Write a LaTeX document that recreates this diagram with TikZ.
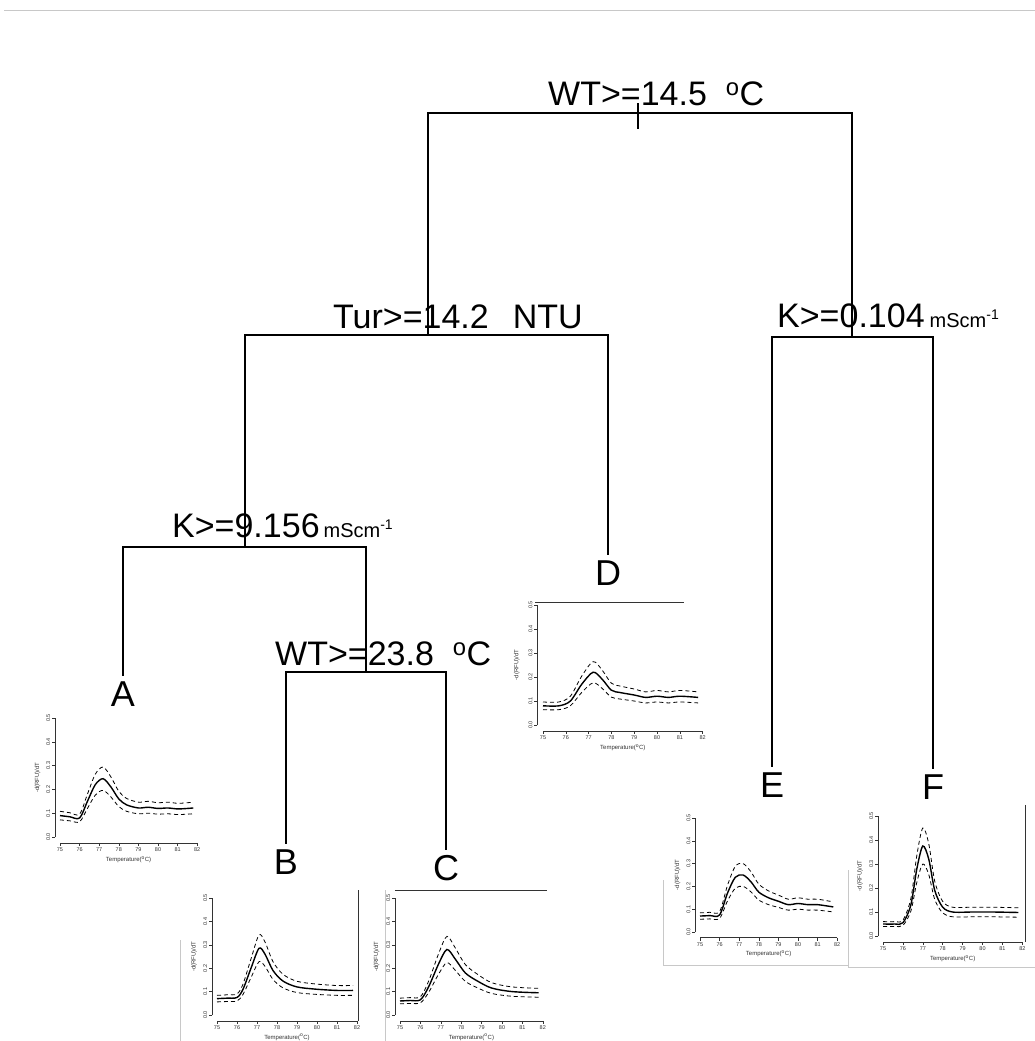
\documentclass[tikz,border=0pt]{standalone}
\usepackage{fontspec}
\setmainfont{Liberation Sans}
\usepackage{xcolor}
\definecolor{frame}{HTML}{C8C8C8}
\definecolor{axisc}{HTML}{333333}
\tikzset{
  branch/.style={line width=1.8pt, draw=black, line cap=rect},
  split/.style={anchor=base west, inner sep=0pt, font=\fontsize{34}{40}\selectfont},
  leaf/.style={anchor=base, inner sep=6pt, font=\fontsize{36}{42}\selectfont},
  meanline/.style={line width=1.4pt},
  bandline/.style={line width=0.8pt, dash pattern=on 4pt off 3pt},
  axisline/.style={line width=0.6pt, draw=axisc},
  ticklbl/.style={font=\fontsize{5.5}{6}\selectfont, text=axisc, inner sep=1.5pt},
  axlbl/.style={font=\fontsize{6}{7}\selectfont, text=axisc},
  edge/.style={line width=0.8pt, draw=frame}
}
\newcommand{\unitsm}[1]{{\fontsize{20}{24}\selectfont #1}}
% melt curve panel: origin, x unit, y unit, mean curve, extra lines
\newcommand{\meltplot}[5]{%
  \begin{scope}[shift={#1}, x=#2, y=#3]
    \draw[axisline] (-0.25,0) -- (-0.25,5);
    \draw[axisline] (0,-0.25) -- (7,-0.25);
    \foreach \tc [count=\i from 0] in {75,...,82}
      \draw[axisline] (\i,-0.25) -- ++(0,-3pt) node[ticklbl, anchor=north] {\tc};
    \foreach \yv [count=\i from 0] in {0.0,0.1,0.2,0.3,0.4,0.5}
      \draw[axisline] (-0.25,\i) -- ++(-3pt,0) node[ticklbl, rotate=90, anchor=south] {\yv};
    \node[axlbl] at (3.5,-0.95) {Temperature(\textsuperscript{o}C)};
    \node[axlbl, rotate=90] at (-1.15,2.5) {-d(RFU)/dT};
    \draw[meanline] plot[smooth] coordinates {#4};
    \draw[bandline, yscale=1.2] plot[smooth] coordinates {#4};
    \draw[bandline, yscale=0.8] plot[smooth] coordinates {#4};
    #5
  \end{scope}}

\begin{document}
\begin{tikzpicture}[x=1pt,y=-1pt]
  \useasboundingbox (0,0) rectangle (1035,1041);
  \draw[edge] (4,10) -- (1035,10);

  % split points
  \coordinate (n1l) at (428,113); \coordinate (n1r) at (852,113);
  \coordinate (stemtop) at (638,104); \coordinate (stembot) at (638,128);
  \coordinate (n2l) at (245,335); \coordinate (n2m) at (428,335); \coordinate (n2r) at (608,335);
  \coordinate (n3l) at (772,337); \coordinate (n3m) at (852,337); \coordinate (n3r) at (933,337);
  \coordinate (n4l) at (123,547); \coordinate (n4m) at (245,547); \coordinate (n4r) at (366,547);
  \coordinate (n5l) at (286,672); \coordinate (n5m) at (366,672); \coordinate (n5r) at (446,672);

  % split labels
  \node[split] (wtroot) at (548,105) {WT>=14.5\ \ \textsuperscript{o}C};
  \node[split] (turb) at (333,328) {Tur>=14.2\hspace{24pt}NTU};
  \node[split] (condhi) at (777,327) {K>=0.104\hspace{5pt}\unitsm{mScm\textsuperscript{-1}}};
  \node[split] (condlo) at (172,537) {K>=9.156\hspace{4pt}\unitsm{mScm\textsuperscript{-1}}};
  \node[split] (wtlow) at (275,665) {WT>=23.8\ \ \textsuperscript{o}C};

  % leaves
  \node[leaf] (lfA) at (123,706) {A};
  \node[leaf] (lfB) at (286,874) {B};
  \node[leaf] (lfC) at (446,880) {C};
  \node[leaf] (lfD) at (608,585) {D};
  \node[leaf] (lfE) at (772,797) {E};
  \node[leaf] (lfF) at (933,799) {F};

  \draw[branch] (n1l) -- (n1r);
  \draw[branch] (stemtop) -- (stembot);
  \draw[branch] (n1l) -- (n2m); \draw[branch] (n2l) -- (n2r);
  \draw[branch] (n1r) -- (n3m); \draw[branch] (n3l) -- (n3r);
  \draw[branch] (n2l) -- (n4m); \draw[branch] (n4l) -- (n4r);
  \draw[branch] (n4r) -- (n5m); \draw[branch] (n5l) -- (n5r);
  \draw[branch] (n4l) -- (lfA.north);
  \draw[branch] (n5l) -- (lfB.north);
  \draw[branch] (n5r) -- (lfC.north);
  \draw[branch] (n2r) -- (lfD.north);
  \draw[branch] (n3l) -- (lfE.north);
  \draw[branch] (n3r) -- (lfF.north);

  % melt curve panels
  \meltplot{(60,837)}{19.6pt}{23.8pt}{(0,0.9) (0.5,0.85) (1,0.8) (1.4,1.5) (1.8,2.2) (2.2,2.45) (2.6,2.1) (3,1.6) (3.4,1.35) (4,1.22) (4.5,1.25) (5,1.2) (5.5,1.22) (6,1.18) (6.5,1.2) (6.8,1.22)}{}
  \meltplot{(543,725)}{22.8pt}{24pt}{(0,0.8) (0.7,0.8) (1.2,1.0) (1.7,1.7) (2.2,2.2) (2.6,1.9) (3,1.45) (3.4,1.35) (4,1.25) (4.5,1.15) (5,1.2) (5.5,1.15) (6,1.2) (6.8,1.15)}{\draw[axisline] (-0.35,5.1) -- (6.2,5.1);}
  \meltplot{(217,1015)}{20pt}{23.4pt}{(0,0.7) (0.5,0.72) (1,0.75) (1.3,1.1) (1.7,2.0) (2.1,2.85) (2.4,2.6) (2.8,1.9) (3.3,1.45) (4,1.2) (5,1.1) (6,1.05) (6.8,1.05)}{\draw[axisline] (7.05,5.34) -- (7.05,-0.25);}
  \meltplot{(400,1015)}{20.4pt}{23.4pt}{(0,0.6) (0.5,0.62) (1,0.65) (1.4,1.2) (1.9,2.2) (2.3,2.8) (2.7,2.4) (3.2,1.8) (3.8,1.45) (4.5,1.15) (5.5,1.0) (6.8,0.95)}{\draw[axisline] (-0.25,5.34) -- (7.2,5.34);}
  \meltplot{(700,932)}{19.6pt}{22.8pt}{(0,0.7) (0.5,0.72) (1,0.75) (1.4,1.7) (1.8,2.4) (2.2,2.5) (2.6,2.2) (3,1.75) (3.5,1.5) (4,1.35) (4.5,1.2) (5,1.25) (5.5,1.2) (6,1.2) (6.8,1.1)}{}
  \meltplot{(883,936)}{19.9pt}{24pt}{(0,0.5) (0.6,0.5) (1,0.55) (1.4,1.3) (1.7,2.8) (2.0,3.75) (2.3,3.2) (2.6,1.9) (3,1.2) (3.5,1.0) (4.5,1.0) (5.5,1.0) (6.8,0.98)}{\draw[axisline] (7.14,5.46) -- (7.14,-0.25);}

  % panel borders
  \draw[edge] (180,940) -- (180,1041);
  \draw[edge] (385,890) -- (385,1041);
  \draw[edge] (663,880) -- (663,965) -- (848,965);
  \draw[edge] (848,870) -- (848,967) -- (1035,967);
\end{tikzpicture}
\end{document}
